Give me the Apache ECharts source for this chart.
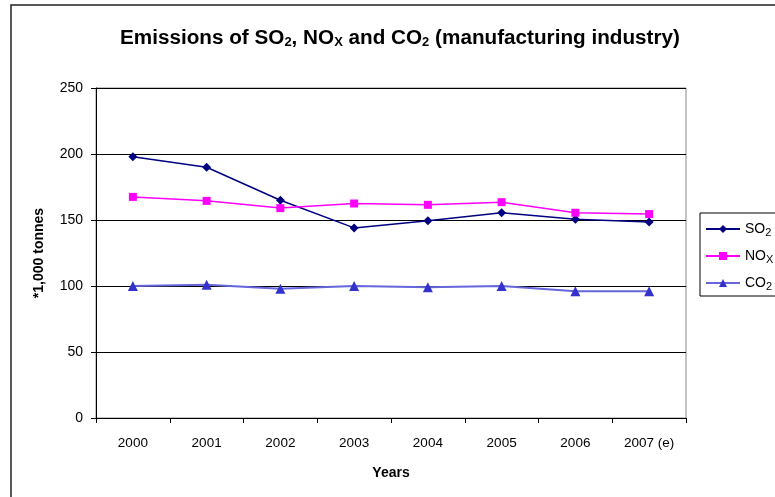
<!DOCTYPE html>
<html>
<head>
<meta charset="utf-8">
<script src="https://cdn.jsdelivr.net/npm/echarts@6/dist/echarts.min.js"></script>
<style>
  html, body { margin: 0; padding: 0; background: #fff; }
  #main { width: 775px; height: 497px; }
</style>
</head>
<body>
<div id="main"></div>
<script>
// data
var years = ['2000', '2001', '2002', '2003', '2004', '2005', '2006', '2007 (e)'];
var so2 = [198, 190, 165, 144, 149.5, 155.5, 150.5, 148.5];
var nox = [167.5, 164.5, 159, 162.5, 161.5, 163.5, 155.5, 154.5];
var co2 = [100, 101, 98, 100, 99, 100, 96, 96];
var yTicks = [0, 50, 100, 150, 200, 250];

var myChart = echarts.init(document.getElementById('main'));

var fontFam = 'Liberation Sans, Arial, sans-serif';
// 下标样式
var subStyle = { fontSize: 11, fontFamily: fontFam, padding: [7, 0, 0, 0] };

var option = {
    animation: false,
    backgroundColor: '#fff',
    title: {
        text: 'Emissions of SO{s|2}, NO{s|X} and CO{s|2} (manufacturing industry)',
        left: 115,
        top: 22,
        textStyle: {
            fontFamily: fontFam,
            fontSize: 20.7,
            fontWeight: 'bold',
            color: '#000',
            rich: {
                s: { fontSize: 13, fontWeight: 'bold', fontFamily: fontFam, padding: [9, 0, 0, 0] }
            }
        }
    },
    // 外框
    graphic: [{
        type: 'rect',
        shape: { x: 11, y: 5, width: 820, height: 560 },
        style: { fill: 'none', stroke: '#222', lineWidth: 1.5 },
        silent: true
    }],
    legend: {
        orient: 'vertical',
        left: 700,
        top: 213,
        itemWidth: 34,
        itemHeight: 10,
        itemGap: 11,
        padding: [9, 20, 4, 5],
        borderColor: '#000',
        borderWidth: 1,
        formatter: function (name) {
            return { 'SO2': 'SO{s|2}', 'NOX': 'NO{s|X}', 'CO2': 'CO{s|2}' }[name];
        },
        textStyle: {
            fontFamily: fontFam,
            fontSize: 14,
            color: '#000',
            rich: { s: subStyle }
        },
        data: ['SO2', 'NOX', 'CO2']
    },
    grid: {
        left: 96,
        top: 88,
        width: 590,
        height: 330,
        show: true,
        borderColor: '#888',
        borderWidth: 1
    },
    xAxis: {
        type: 'category',
        data: years,
        boundaryGap: true,
        name: 'Years',
        nameLocation: 'middle',
        nameGap: 48,
        nameTextStyle: { fontFamily: fontFam, fontSize: 14, fontWeight: 'bold', color: '#000' },
        axisLine: { lineStyle: { color: '#000', width: 1 } },
        axisTick: { show: true, length: 5, lineStyle: { color: '#000' } },
        axisLabel: { fontFamily: fontFam, fontSize: 13.5, color: '#000', margin: 18 }
    },
    yAxis: {
        type: 'value',
        min: yTicks[0],
        max: yTicks[yTicks.length - 1],
        interval: yTicks[1] - yTicks[0],
        name: '*1,000 tonnes',
        nameLocation: 'middle',
        nameGap: 50,
        nameTextStyle: { fontFamily: fontFam, fontSize: 14, fontWeight: 'bold', color: '#000' },
        axisLine: { show: true, lineStyle: { color: '#000', width: 1 } },
        axisTick: { show: true, length: 5, lineStyle: { color: '#000' } },
        axisLabel: { fontFamily: fontFam, fontSize: 14, color: '#000', margin: 13 },
        splitLine: { lineStyle: { color: '#000', width: 1 } }
    },
    series: [
        {
            name: 'SO2',
            type: 'line',
            data: so2,
            symbol: 'diamond',
            symbolSize: 9,
            color: '#000080',
            lineStyle: { width: 1.5, color: '#000080' }
        },
        {
            name: 'NOX',
            type: 'line',
            data: nox,
            symbol: 'rect',
            symbolSize: 8,
            color: '#ff00ff',
            lineStyle: { width: 1.5, color: '#ff00ff' }
        },
        {
            name: 'CO2',
            type: 'line',
            data: co2,
            symbol: 'triangle',
            symbolSize: 10,
            color: '#3333cc',
            lineStyle: { width: 2, color: '#6666dd' }
        }
    ]
};

myChart.setOption(option);
</script>
</body>
</html>
